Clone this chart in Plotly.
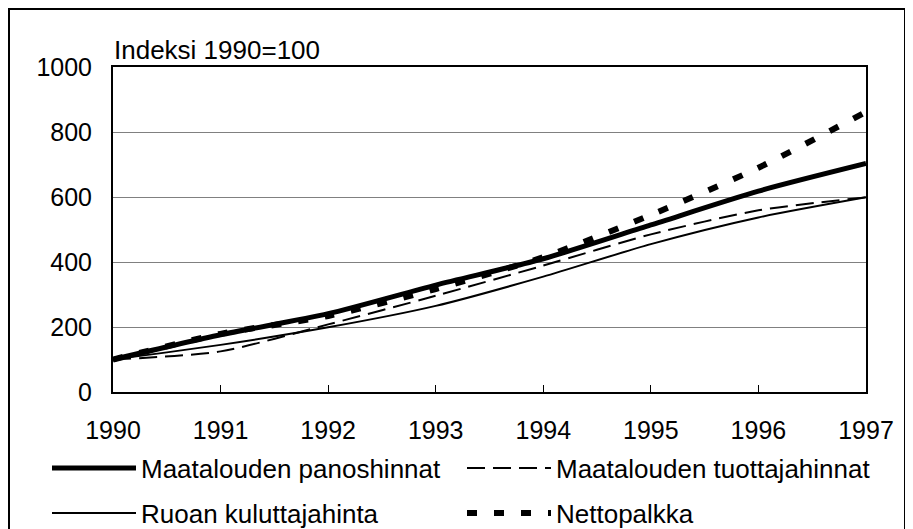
import plotly.graph_objects as go

years = [1990, 1991, 1992, 1993, 1994, 1995, 1996, 1997]
panoshinnat = [100, 176, 241, 329, 410, 514, 618, 703]
tuottajahinnat = [100, 125, 208, 296, 389, 485, 559, 599]
kuluttajahinta = [100, 145, 199, 265, 355, 455, 537, 599]
nettopalkka = [100, 179, 234, 317, 415, 545, 690, 862]

names = ["Maatalouden panoshinnat", "Maatalouden tuottajahinnat",
         "Ruoan kuluttajahinta", "Nettopalkka"]
y_ticks = [0, 200, 400, 600, 800, 1000]
title_text = "Indeksi 1990=100"

FONT = "Liberation Sans, Arial, sans-serif"

# plot area in figure pixels (page adds an 8px body margin)
L, R, T, B = 105, 858, 59, 384
PW, PH = R - L, B - T

fig = go.Figure()
fig.add_trace(go.Scatter(x=years, y=panoshinnat, name=names[0], mode="lines",
                         line=dict(color="black", width=5, shape="spline", smoothing=0.7),
                         legend="legend"))
fig.add_trace(go.Scatter(x=years, y=tuottajahinnat, name=names[1], mode="lines",
                         line=dict(color="black", width=2, dash="18px,8px", shape="spline", smoothing=0.7),
                         legend="legend"))
fig.add_trace(go.Scatter(x=years, y=kuluttajahinta, name=names[2], mode="lines",
                         line=dict(color="black", width=2, shape="spline", smoothing=0.7),
                         legend="legend2"))
fig.add_trace(go.Scatter(x=years, y=nettopalkka, name=names[3], mode="lines",
                         line=dict(color="black", width=6, dash="10px,17px", shape="spline", smoothing=0.7),
                         legend="legend2"))

legend_common = dict(orientation="h", xanchor="left", yanchor="middle",
                     font=dict(family=FONT, size=26, color="black"),
                     bgcolor="rgba(0,0,0,0)", itemwidth=84, entrywidth=316,
                     traceorder="normal", itemclick=False)

fig.update_layout(
    width=913, height=529,
    margin=dict(l=L, r=913 - R, t=T, b=529 - B, autoexpand=False),
    paper_bgcolor="white", plot_bgcolor="white",
    font=dict(family=FONT, size=25, color="black"),
    showlegend=True,
    legend=dict(x=-66 / PW, y=-76 / PH, **legend_common),
    legend2=dict(x=-66 / PW, y=-121 / PH, **legend_common),
    xaxis=dict(range=[1990, 1997], tickmode="array", tickvals=years,
               ticktext=[str(y) for y in years],
               ticks="inside", ticklen=7, tickwidth=1, tickcolor="black",
               showgrid=False, zeroline=False, showline=True, linecolor="black",
               linewidth=2, mirror=True, ticklabelstandoff=15,
               tickfont=dict(family=FONT, size=25), automargin=False),
    yaxis=dict(range=[0, 1000], tickmode="array", tickvals=y_ticks,
               showgrid=True, gridcolor="#808080", gridwidth=1,
               zeroline=False, showline=True, linecolor="black", linewidth=2,
               mirror=True, ticks="", ticklabelstandoff=14,
               tickfont=dict(family=FONT, size=25), automargin=False),
    annotations=[dict(text=title_text, xref="paper", yref="paper", x=-0.0013, y=1.0,
                      xanchor="left", yanchor="bottom", showarrow=False,
                      font=dict(family=FONT, size=26))],
    shapes=[dict(type="rect", xref="paper", yref="paper",
                 x0=(1 - L) / PW, x1=(897 - L) / PW,
                 y0=(B - 545) / PH, y1=(B - 1) / PH,
                 line=dict(color="black", width=2), layer="below")],
)

fig.write_html("out.html")
